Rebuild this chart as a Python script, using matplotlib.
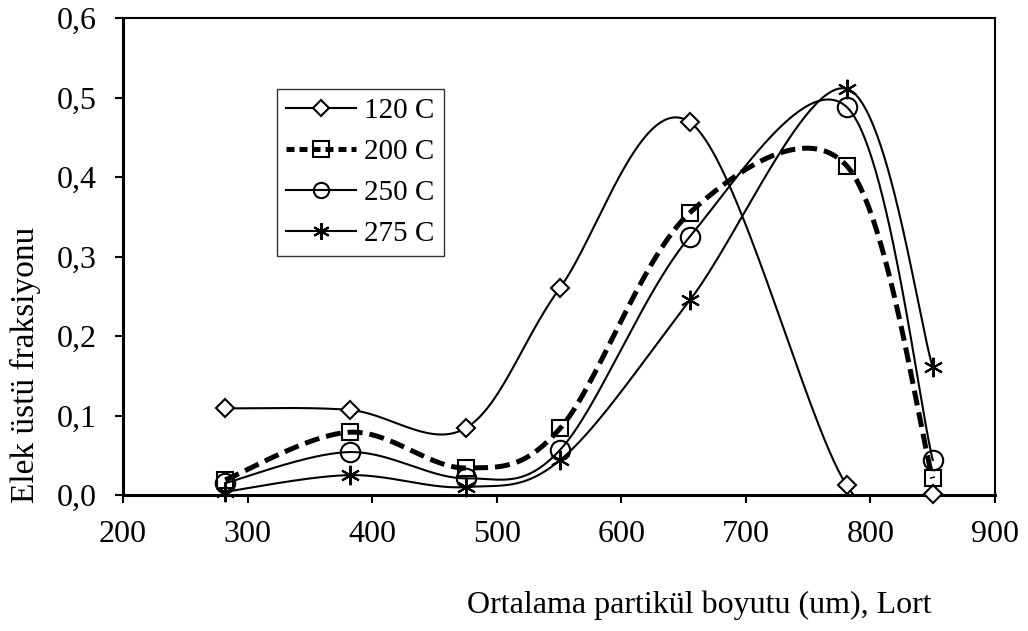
import numpy as np
import matplotlib
matplotlib.use("Agg")
import matplotlib.pyplot as plt
from matplotlib.lines import Line2D

plt.rcParams['font.family'] = ['Liberation Serif', 'DejaVu Serif']

x_vals = [282, 382, 475, 551, 655, 781, 850]
s120 = [0.109, 0.107, 0.084, 0.261, 0.469, 0.012, 0.001]
s200 = [0.019, 0.079, 0.034, 0.084, 0.355, 0.414, 0.021]
s250 = [0.015, 0.054, 0.021, 0.057, 0.325, 0.488, 0.044]
s275 = [0.004, 0.025, 0.010, 0.044, 0.245, 0.511, 0.161]
labels = ['120 C', '200 C', '250 C', '275 C']
xticks = [200, 300, 400, 500, 600, 700, 800, 900]
yticks = [0.0, 0.1, 0.2, 0.3, 0.4, 0.5, 0.6]

fig = plt.figure(figsize=(10.28, 6.31), dpi=100)
ax = fig.add_axes([123/1028, 1-495/631, (995-123)/1028, (495-18)/631])
ax.set_xlim(200, 900)
ax.set_ylim(0, 0.6)


def smooth(xs, ys, n=60):
    # Excel-like bezier smoothing in display space
    pts = ax.transData.transform(np.column_stack([xs, ys]))
    P = np.vstack([pts[0], pts, pts[-1]])
    out = []
    for i in range(1, len(P) - 2):
        p0, p3 = P[i], P[i + 1]
        c1 = p0 + (P[i + 1] - P[i - 1]) / 6.0
        c2 = p3 - (P[i + 2] - P[i]) / 6.0
        t = np.linspace(0, 1, n)[:, None]
        seg = ((1 - t) ** 3) * p0 + 3 * ((1 - t) ** 2) * t * c1 + 3 * (1 - t) * t ** 2 * c2 + t ** 3 * p3
        out.append(seg if i == 1 else seg[1:])
    out = np.vstack(out)
    return ax.transData.inverted().transform(out)


series = [s120, s200, s250, s275]
markers = ['D', 's', 'o', (6, 2, 0)]
msizes = [9, 12, 14, 14]
lws = [1.5, 3.6, 1.5, 1.5]
styles = ['-', (0, (3, 1.4)), '-', '-']
fills = ['white', 'none', 'none', 'black']
leg_ms = [8, 11, 11, 12]
handles = []
for ys, m, ms, lw, ls, fc, lms in zip(series, markers, msizes, lws, styles, fills, leg_ms):
    c = smooth(x_vals, ys)
    ax.plot(c[:, 0], c[:, 1], color='black', lw=lw, ls=ls, zorder=2, clip_on=True)
    ax.plot(x_vals, ys, ls='none', marker=m, ms=ms, mfc=fc, mec='black', mew=1.5,
            zorder=3, clip_on=False)
    handles.append(Line2D([], [], color='black', lw=lw, ls=ls if lw < 3 else (0, (1.6, 1.0)),
                          marker=m, ms=lms, mfc=fc, mec='black', mew=1.5))

ax.set_xticks(xticks)
ax.set_xticklabels([str(v) for v in xticks])
ax.set_yticks(yticks)
ax.set_yticklabels([f"{v:.1f}".replace('.', ',') for v in yticks])
ax.tick_params(direction='out', length=6, width=1.5, labelsize=23, top=False, right=False)
ax.tick_params(axis='x', pad=12)
ax.tick_params(axis='y', pad=13)
ax.spines['left'].set_linewidth(2.2)
ax.spines['bottom'].set_linewidth(2.2)
ax.spines['top'].set_linewidth(1.5)
ax.spines['right'].set_linewidth(1.5)

fig.text(25/1028, 1-365/631, 'Elek üstü fraksiyonu', fontsize=24, rotation=90, ha='center', va='center')
fig.text(932/1028, 1-605/631, 'Ortalama partikül boyutu (um), Lort', fontsize=23, ha='right', va='center')

leg = ax.legend(handles, labels, loc='upper left', bbox_to_anchor=((277-123)/872, (495-89)/477),
                fontsize=21, frameon=True, fancybox=False, edgecolor='black', handlelength=2.4,
                handletextpad=0.3, labelspacing=0.5, borderpad=0.3, borderaxespad=0)
leg.get_frame().set_linewidth(1.0)

fig.savefig('out.png', dpi=100)
